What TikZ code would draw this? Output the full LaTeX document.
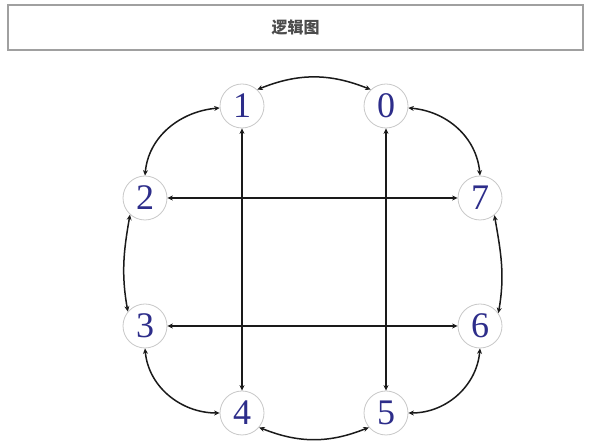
\documentclass[tikz,border=0pt]{standalone}
\usepackage{fontspec}
\setmainfont{Liberation Serif}
\newfontfamily\cjkfont{Noto Sans CJK SC}
\usetikzlibrary{arrows.meta}
\definecolor{ringGrey}{HTML}{C8C8C8}
\definecolor{boxGrey}{HTML}{A0A0A0}
\definecolor{digitBlue}{HTML}{2D2D8A}
\definecolor{linkBlack}{HTML}{1A1A1A}
\tikzset{
  vertex/.style={
    circle, draw=ringGrey, line width=0.8pt, fill=white,
    minimum size=44pt, inner sep=0pt,
    text=digitBlue, font=\fontsize{36}{36}\selectfont,
  },
  link/.style={
    {Stealth[length=5.5pt, width=5pt]}-{Stealth[length=5.5pt, width=5pt]},
    line width=1.5pt, draw=linkBlack,
  },
}
\begin{document}
\begin{tikzpicture}[x=1pt, y=1pt]
\useasboundingbox (0,0) rectangle (592,441);

% Title bar
\node[draw=boxGrey, line width=1.5pt, minimum width=575pt, minimum height=45pt,
  inner sep=0pt, font=\cjkfont\bfseries\fontsize{16}{16}\selectfont, text=black!70] (title)
  at (295.5,413.5) {逻辑图};

% Vertices (ring of eight)
\node[vertex] (n1) at (242,335) {1};
\node[vertex] (n0) at (386,335) {0};
\node[vertex] (n2) at (145,243) {2};
\node[vertex] (n7) at (480,243) {7};
\node[vertex] (n3) at (145,115) {3};
\node[vertex] (n6) at (480,115) {6};
\node[vertex] (n4) at (242,28) {4};
\node[vertex] (n5) at (386,28) {5};

% Ring links (curved)
\draw[link] (n1.47) to[bend left=22] (n0.133);
\draw[link] (n0.-5) to[out=-5, in=95] (n7.90);
\draw[link] (n7.-50) to[out=-80, in=80] (n6.35);
\draw[link] (n6.270) to[out=265, in=0] (n5.0);
\draw[link] (n5.220) to[bend left=22] (n4.-40);
\draw[link] (n4.180) to[out=180, in=275] (n3.270);
\draw[link] (n3.140) to[out=100, in=260] (n2.228);
\draw[link] (n2.90) to[out=85, in=185] (n1.185);

% Cross links (straight)
\draw[link] (n1.south) -- (n4.north);
\draw[link] (n0.south) -- (n5.north);
\draw[link] (n2.east) -- (n7.west);
\draw[link] (n3.east) -- (n6.west);

\end{tikzpicture}
\end{document}
